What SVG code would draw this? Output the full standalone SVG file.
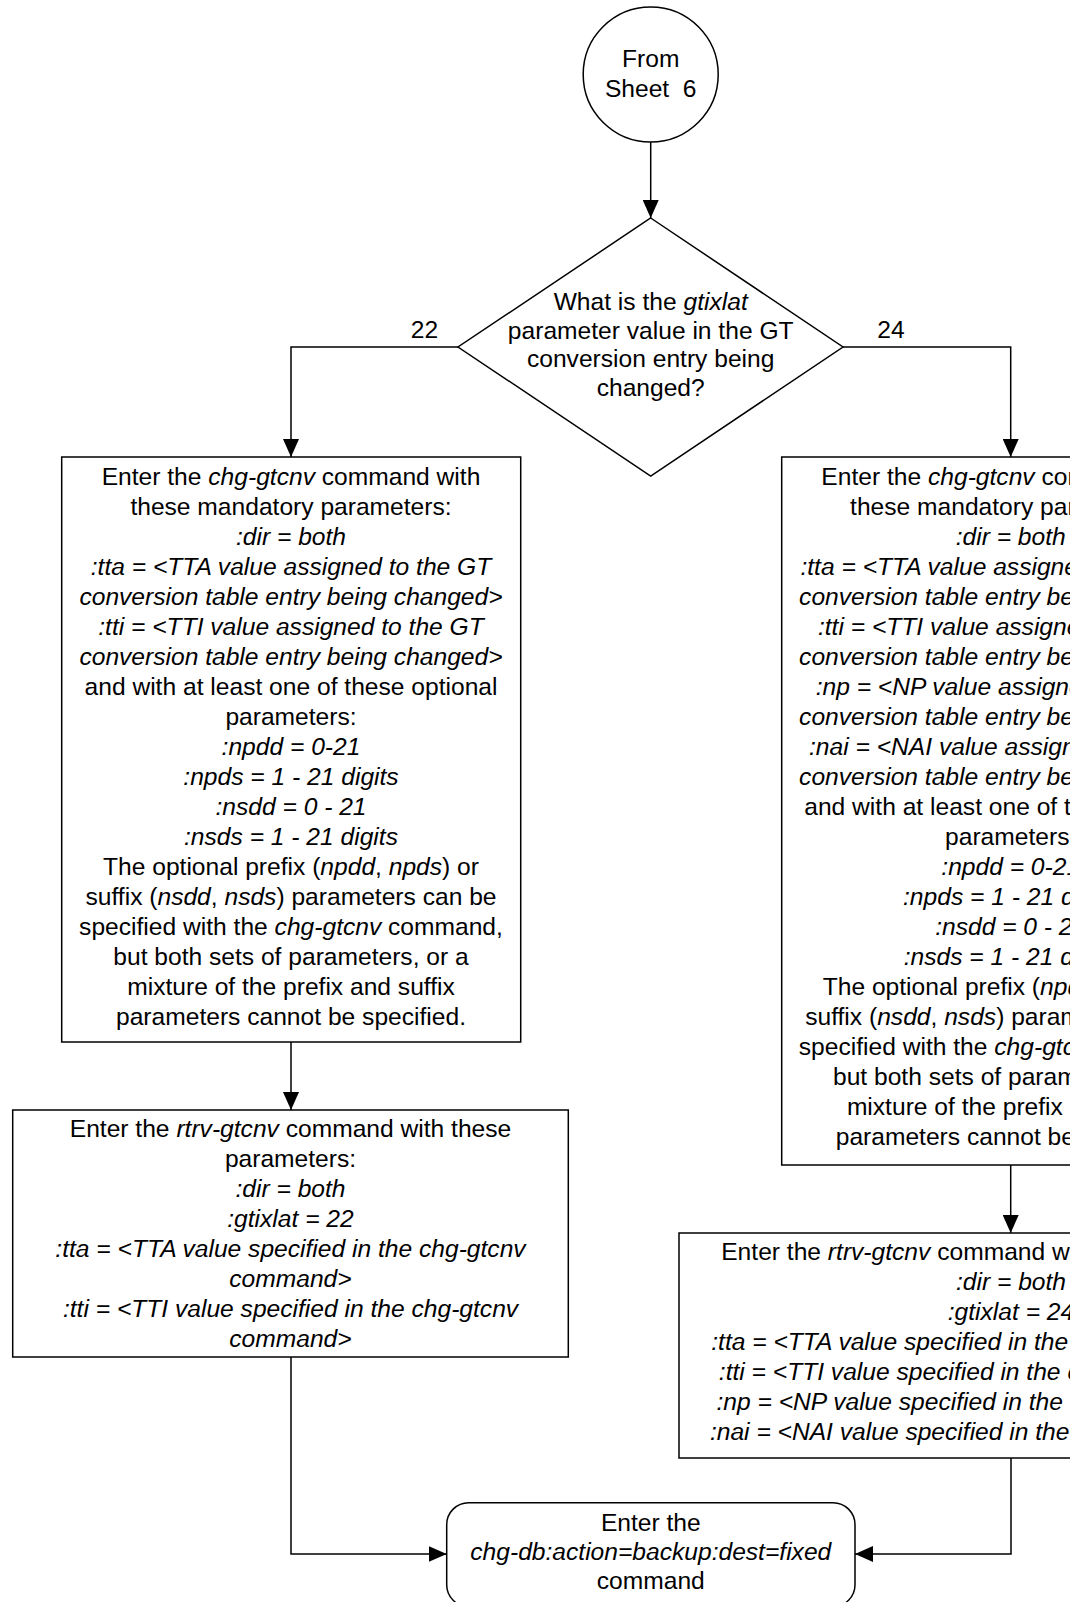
<svg xmlns="http://www.w3.org/2000/svg" width="1070" height="1602" viewBox="0 0 1070 1602">
<style>
.s{fill:#fff;stroke:#000;stroke-width:1.5}
.c{fill:none;stroke:#000;stroke-width:1.5}
text{font-family:"Liberation Sans",Arial,sans-serif;font-size:24.6px;fill:#000;text-anchor:middle}
.i{font-style:italic}
</style>
<defs>
<marker id="ah" markerUnits="userSpaceOnUse" markerWidth="18" markerHeight="16" refX="18" refY="8" orient="auto">
<path d="M0,0 L18,8 L0,16 z" fill="#000"/>
</marker>
</defs>
<rect width="1070" height="1602" fill="#fff"/>
<g id="connectors">
<path class="c" d="M650.7,142 V218" marker-end="url(#ah)"/>
<path class="c" d="M458,347 H291 V457" marker-end="url(#ah)"/>
<path class="c" d="M843,347 H1010.7 V457" marker-end="url(#ah)"/>
<path class="c" d="M291,1042 V1110" marker-end="url(#ah)"/>
<path class="c" d="M1010.7,1165 V1233" marker-end="url(#ah)"/>
<path class="c" d="M291,1357 V1554 H446.7" marker-end="url(#ah)"/>
<path class="c" d="M1011,1458 V1554 H855" marker-end="url(#ah)"/>
<text x="424.5" y="338">22</text>
<text x="891" y="338">24</text>
</g>
<g id="start">
<circle class="s" cx="650.7" cy="74.5" r="67.5"/>
<text x="650.7" y="67">From</text>
<text x="650.7" y="97" xml:space="preserve">Sheet  6</text>
</g>
<g id="decision">
<polygon class="s" points="650.7,218 843,347 650.7,476 458,347"/>
<text x="650.7" y="310">What is the <tspan class="i">gtixlat</tspan></text>
<text x="650.7" y="338.5">parameter value in the GT</text>
<text x="650.7" y="367">conversion entry being</text>
<text x="650.7" y="395.5">changed?</text>
</g>
<g id="chg22">
<rect class="s" x="61.7" y="457" width="459" height="585"/>
<text x="291" y="485">Enter the <tspan class="i">chg-gtcnv</tspan> command with</text>
<text x="291" y="515">these mandatory parameters:</text>
<text x="291" y="545" class="i">:dir = both</text>
<text x="291" y="575" class="i">:tta = &lt;TTA value assigned to the GT</text>
<text x="291" y="605" class="i">conversion table entry being changed&gt;</text>
<text x="291" y="635" class="i">:tti = &lt;TTI value assigned to the GT</text>
<text x="291" y="665" class="i">conversion table entry being changed&gt;</text>
<text x="291" y="695">and with at least one of these optional</text>
<text x="291" y="725">parameters:</text>
<text x="291" y="755" class="i">:npdd = 0-21</text>
<text x="291" y="785" class="i">:npds = 1 - 21 digits</text>
<text x="291" y="815" class="i">:nsdd = 0 - 21</text>
<text x="291" y="845" class="i">:nsds = 1 - 21 digits</text>
<text x="291" y="875">The optional prefix (<tspan class="i">npdd</tspan>, <tspan class="i">npds</tspan>) or</text>
<text x="291" y="905">suffix (<tspan class="i">nsdd</tspan>, <tspan class="i">nsds</tspan>) parameters can be</text>
<text x="291" y="935">specified with the <tspan class="i">chg-gtcnv</tspan> command,</text>
<text x="291" y="965">but both sets of parameters, or a</text>
<text x="291" y="995">mixture of the prefix and suffix</text>
<text x="291" y="1025">parameters cannot be specified.</text>
</g>
<g id="chg24">
<rect class="s" x="781.7" y="457" width="458" height="708"/>
<text x="1010.7" y="485">Enter the <tspan class="i">chg-gtcnv</tspan> command with</text>
<text x="1010.7" y="515">these mandatory parameters:</text>
<text x="1010.7" y="545" class="i">:dir = both</text>
<text x="1000.7" y="575" class="i">:tta = &lt;TTA value assigned to the GT</text>
<text x="1010.7" y="605" class="i">conversion table entry being changed&gt;</text>
<text x="1010.7" y="635" class="i">:tti = &lt;TTI value assigned to the GT</text>
<text x="1010.7" y="665" class="i">conversion table entry being changed&gt;</text>
<text x="1010.7" y="695" class="i">:np = &lt;NP value assigned to the GT</text>
<text x="1010.7" y="725" class="i">conversion table entry being changed&gt;</text>
<text x="1010.7" y="755" class="i">:nai = &lt;NAI value assigned to the GT</text>
<text x="1010.7" y="785" class="i">conversion table entry being changed&gt;</text>
<text x="1010.7" y="815">and with at least one of these optional</text>
<text x="1010.7" y="845">parameters:</text>
<text x="1010.7" y="875" class="i">:npdd = 0-21</text>
<text x="1010.7" y="905" class="i">:npds = 1 - 21 digits</text>
<text x="1010.7" y="935" class="i">:nsdd = 0 - 21</text>
<text x="1010.7" y="965" class="i">:nsds = 1 - 21 digits</text>
<text x="1010.7" y="995">The optional prefix (<tspan class="i">npdd</tspan>, <tspan class="i">npds</tspan>) or</text>
<text x="1010.7" y="1025">suffix (<tspan class="i">nsdd</tspan>, <tspan class="i">nsds</tspan>) parameters can be</text>
<text x="1010.7" y="1055">specified with the <tspan class="i">chg-gtcnv</tspan> command,</text>
<text x="1010.7" y="1085">but both sets of parameters, or a</text>
<text x="1010.7" y="1115">mixture of the prefix and suffix</text>
<text x="1010.7" y="1145">parameters cannot be specified.</text>
</g>
<g id="rtrv22">
<rect class="s" x="12.7" y="1110" width="555.6" height="247"/>
<text x="290.5" y="1137">Enter the <tspan class="i">rtrv-gtcnv</tspan> command with these</text>
<text x="290.5" y="1167">parameters:</text>
<text x="290.5" y="1197" class="i">:dir = both</text>
<text x="290.5" y="1227" class="i">:gtixlat = 22</text>
<text x="290.5" y="1257" class="i">:tta = &lt;TTA value specified in the chg-gtcnv</text>
<text x="290.5" y="1287" class="i">command&gt;</text>
<text x="290.5" y="1317" class="i">:tti = &lt;TTI value specified in the chg-gtcnv</text>
<text x="290.5" y="1347" class="i">command&gt;</text>
</g>
<g id="rtrv24">
<rect class="s" x="679" y="1233" width="664" height="225"/>
<text x="1011" y="1260">Enter the <tspan class="i">rtrv-gtcnv</tspan> command with these parameters:</text>
<text x="1011" y="1290" class="i">:dir = both</text>
<text x="1011" y="1320" class="i">:gtixlat = 24</text>
<text x="1011" y="1350" class="i">:tta = &lt;TTA value specified in the chg-gtcnv command&gt;</text>
<text x="1011" y="1380" class="i">:tti = &lt;TTI value specified in the chg-gtcnv command&gt;</text>
<text x="1011" y="1410" class="i">:np = &lt;NP value specified in the chg-gtcnv command&gt;</text>
<text x="1011" y="1440" class="i">:nai = &lt;NAI value specified in the chg-gtcnv command&gt;</text>
</g>
<g id="backup">
<rect class="s" x="446.7" y="1502.7" width="408.3" height="104" rx="22" ry="22"/>
<text x="650.8" y="1531">Enter the</text>
<text x="650.8" y="1560" class="i">chg-db:action=backup:dest=fixed</text>
<text x="650.8" y="1589">command</text>
</g>
</svg>
